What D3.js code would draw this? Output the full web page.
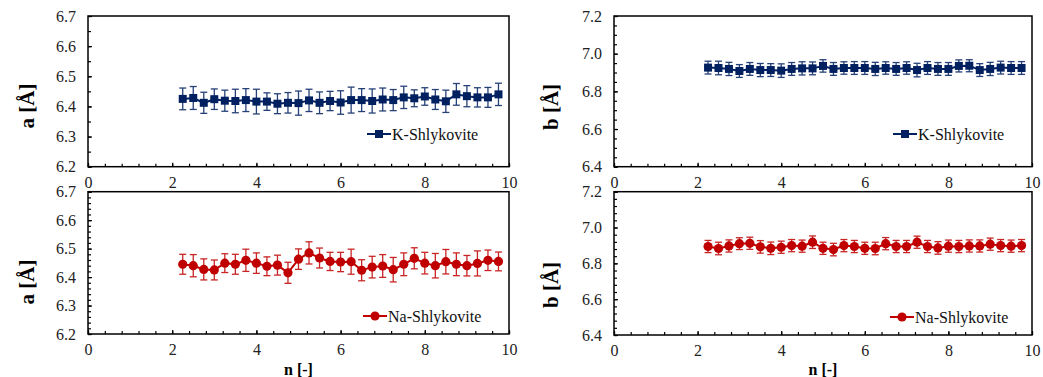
<!DOCTYPE html>
<html>
<head>
<meta charset="utf-8">
<script src="https://cdn.jsdelivr.net/npm/d3@7"></script>
<style>
  body { margin: 0; background: #fff; }
  svg, svg text { font-family: "Liberation Serif", "DejaVu Serif", serif; }
</style>
</head>
<body>
<div class="canvas"></div>
<script>
// n values (same for every panel)
const nVals = [2.25, 2.5, 2.75, 3, 3.25, 3.5, 3.75, 4, 4.25, 4.5, 4.75, 5, 5.25, 5.5, 5.75, 6,
  6.25, 6.5, 6.75, 7, 7.25, 7.5, 7.75, 8, 8.25, 8.5, 8.75, 9, 9.25, 9.5, 9.75];

// lattice parameter a, K-Shlykovite
const aK = [6.425, 6.428, 6.412, 6.424, 6.419, 6.418, 6.421, 6.416, 6.416, 6.409, 6.412, 6.411,
  6.420, 6.412, 6.418, 6.413, 6.421, 6.421, 6.418, 6.423, 6.421, 6.430, 6.427, 6.433, 6.423,
  6.417, 6.440, 6.434, 6.430, 6.430, 6.440];
const aKErr = [0.036, 0.038, 0.035, 0.034, 0.035, 0.039, 0.038, 0.041, 0.029, 0.033, 0.034, 0.040,
  0.037, 0.036, 0.032, 0.039, 0.043, 0.038, 0.040, 0.038, 0.035, 0.037, 0.028, 0.029, 0.033,
  0.037, 0.036, 0.035, 0.032, 0.033, 0.037];

// lattice parameter a, Na-Shlykovite
const aNa = [6.445, 6.440, 6.427, 6.425, 6.449, 6.445, 6.459, 6.449, 6.438, 6.442, 6.415, 6.463,
  6.485, 6.467, 6.455, 6.453, 6.454, 6.424, 6.435, 6.439, 6.426, 6.445, 6.466, 6.449, 6.440,
  6.454, 6.445, 6.440, 6.448, 6.459, 6.455];
const aNaErr = [0.035, 0.039, 0.037, 0.035, 0.033, 0.035, 0.039, 0.036, 0.033, 0.035, 0.037, 0.036,
  0.039, 0.035, 0.032, 0.034, 0.044, 0.037, 0.038, 0.040, 0.043, 0.040, 0.037, 0.038, 0.043,
  0.043, 0.040, 0.036, 0.044, 0.036, 0.033];

// lattice parameter b, K-Shlykovite
const bK = [6.926, 6.924, 6.919, 6.908, 6.919, 6.913, 6.913, 6.910, 6.919, 6.922, 6.922, 6.935,
  6.919, 6.924, 6.924, 6.924, 6.919, 6.924, 6.919, 6.924, 6.913, 6.924, 6.919, 6.919, 6.935,
  6.936, 6.913, 6.919, 6.926, 6.924, 6.924];
const bKErr = [0.034, 0.036, 0.035, 0.034, 0.034, 0.035, 0.034, 0.036, 0.034, 0.035, 0.034, 0.033,
  0.034, 0.033, 0.034, 0.034, 0.035, 0.033, 0.034, 0.033, 0.036, 0.034, 0.034, 0.034, 0.032,
  0.032, 0.034, 0.035, 0.034, 0.034, 0.034];

// lattice parameter b, Na-Shlykovite
const bNa = [6.894, 6.883, 6.897, 6.910, 6.912, 6.892, 6.884, 6.890, 6.899, 6.896, 6.918, 6.884,
  6.877, 6.899, 6.894, 6.884, 6.883, 6.910, 6.894, 6.894, 6.918, 6.894, 6.886, 6.896, 6.894,
  6.897, 6.897, 6.907, 6.899, 6.896, 6.899];
const bNaErr = [0.034, 0.035, 0.034, 0.033, 0.034, 0.035, 0.035, 0.034, 0.034, 0.034, 0.035, 0.034,
  0.035, 0.034, 0.034, 0.034, 0.035, 0.034, 0.034, 0.034, 0.034, 0.034, 0.035, 0.034, 0.034,
  0.034, 0.034, 0.034, 0.034, 0.034, 0.034];

const xTicks = [0, 2, 4, 6, 8, 10];
const aTicks = [6.2, 6.3, 6.4, 6.5, 6.6, 6.7];
const bTicks = [6.4, 6.6, 6.8, 7.0, 7.2];

const navy = "#002060";
const red = "#c00000";
const serif = "Liberation Serif, DejaVu Serif, serif";

const panels = [
  { left: 88, right: 509, top: 16, bottom: 166.7, ys: aK, err: aKErr, yDomain: [6.2, 6.7], ticks: aTicks, minor: 0.05,
    color: navy, marker: "square", name: "K-Shlykovite", yTitle: "a", titleX: 28, titleY: 106, legX: 367, legY: 134, xTitle: false },
  { left: 88, right: 509, top: 191.7, bottom: 334, ys: aNa, err: aNaErr, yDomain: [6.2, 6.7], ticks: aTicks, minor: 0.02,
    color: red, marker: "circle", name: "Na-Shlykovite", yTitle: "a", titleX: 28, titleY: 282, legX: 363, legY: 316, xTitle: true },
  { left: 614, right: 1032, top: 16, bottom: 166.7, ys: bK, err: bKErr, yDomain: [6.4, 7.2], ticks: bTicks, minor: 0.05,
    color: navy, marker: "square", name: "K-Shlykovite", yTitle: "b", titleX: 552, titleY: 107, legX: 893, legY: 134, xTitle: false },
  { left: 614, right: 1032, top: 191.7, bottom: 335, ys: bNa, err: bNaErr, yDomain: [6.4, 7.2], ticks: bTicks, minor: 0.04,
    color: red, marker: "circle", name: "Na-Shlykovite", yTitle: "b", titleX: 552, titleY: 285, legX: 890, legY: 317, xTitle: true }
];

const svg = d3.select(".canvas").append("svg")
  .attr("width", 1043)
  .attr("height", 377)
  .attr("font-family", serif);

function drawMarker(g, kind, color, cx, cy) {
  if (kind === "square") {
    g.append("rect").attr("x", cx - 4).attr("y", cy - 4).attr("width", 8).attr("height", 8).attr("fill", color);
  } else {
    g.append("circle").attr("cx", cx).attr("cy", cy).attr("r", 4.6).attr("fill", color);
  }
}

panels.forEach(p => {
  const x = d3.scaleLinear().domain([0, 10]).range([p.left, p.right]);
  const y = d3.scaleLinear().domain(p.yDomain).range([p.bottom, p.top]);
  const g = svg.append("g");

  // minor ticks
  const yMinor = d3.range(p.yDomain[0], p.yDomain[1] + 1e-9, p.minor);
  g.append("g").attr("transform", `translate(${p.left},0)`)
    .call(d3.axisLeft(y).tickValues(yMinor).tickSize(-3).tickFormat(""))
    .call(s => s.select(".domain").remove());
  g.append("g").attr("transform", `translate(0,${p.bottom})`)
    .call(d3.axisBottom(x).tickValues(d3.range(0, 10.01, 0.4)).tickSize(-3).tickFormat(""))
    .call(s => s.select(".domain").remove());

  // major axes
  const yAxis = g.append("g").attr("transform", `translate(${p.left},0)`)
    .call(d3.axisLeft(y).tickValues(p.ticks).tickSize(-4).tickPadding(12).tickFormat(d3.format(".1f")));
  const xAxis = g.append("g").attr("transform", `translate(0,${p.bottom})`)
    .call(d3.axisBottom(x).tickValues(xTicks).tickSize(-4).tickPadding(10).tickFormat(d3.format("d")));
  [yAxis, xAxis].forEach(a => {
    a.attr("font-family", serif);
    a.select(".domain").remove();
    a.selectAll("text").attr("font-size", 16).attr("fill", "#222").style("font-family", serif);
  });
  g.selectAll(".tick line").attr("stroke", "#000").attr("stroke-width", 1.2);

  // frame
  g.append("rect")
    .attr("x", p.left).attr("y", p.top)
    .attr("width", p.right - p.left).attr("height", p.bottom - p.top)
    .attr("fill", "none").attr("stroke", "#000").attr("stroke-width", 1.5);

  const pts = nVals.map((n, i) => ({ n, v: p.ys[i], e: p.err[i] }));

  // error bars
  const eb = g.append("g").attr("stroke", p.color).attr("stroke-width", 1.3).attr("opacity", 0.85);
  pts.forEach(d => {
    const cx = x(d.n);
    eb.append("line").attr("x1", cx).attr("x2", cx).attr("y1", y(d.v - d.e)).attr("y2", y(d.v + d.e));
    eb.append("line").attr("x1", cx - 3.5).attr("x2", cx + 3.5).attr("y1", y(d.v - d.e)).attr("y2", y(d.v - d.e));
    eb.append("line").attr("x1", cx - 3.5).attr("x2", cx + 3.5).attr("y1", y(d.v + d.e)).attr("y2", y(d.v + d.e));
  });

  // series line
  const line = d3.line().x(d => x(d.n)).y(d => y(d.v));
  g.append("path").datum(pts)
    .attr("fill", "none").attr("stroke", p.color).attr("stroke-width", 2).attr("d", line);

  const mk = g.append("g");
  pts.forEach(d => drawMarker(mk, p.marker, p.color, x(d.n), y(d.v)));

  // legend
  const lg = g.append("g");
  lg.append("line").attr("x1", p.legX).attr("x2", p.legX + 24).attr("y1", p.legY).attr("y2", p.legY)
    .attr("stroke", p.color).attr("stroke-width", 2);
  drawMarker(lg, p.marker, p.color, p.legX + 12, p.legY);
  lg.append("text").attr("x", p.legX + 25).attr("y", p.legY + 5.5)
    .attr("font-size", 16).attr("fill", "#111").style("font-family", serif).text(p.name);

  // y title
  svg.append("text")
    .attr("transform", `translate(${p.titleX + 6},${p.titleY}) rotate(-90)`)
    .attr("text-anchor", "middle")
    .attr("font-size", 21).attr("font-weight", "bold").style("font-family", serif)
    .text(`${p.yTitle} [Å]`);

  if (p.xTitle) {
    svg.append("text")
      .attr("x", (p.left + p.right) / 2).attr("y", 375)
      .attr("text-anchor", "middle")
      .attr("font-size", 16).attr("font-weight", "bold").style("font-family", serif)
      .text("n [-]");
  }
});
</script>
</body>
</html>
